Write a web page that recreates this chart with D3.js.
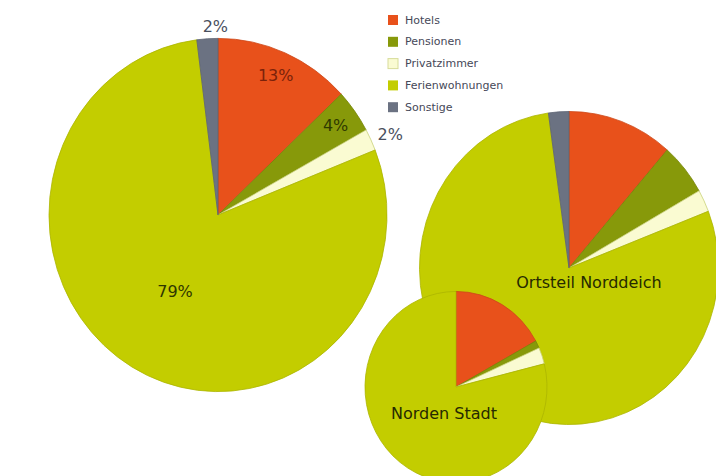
<!DOCTYPE html>
<html>
<head>
<meta charset="utf-8">
<script src="https://cdn.jsdelivr.net/npm/d3@7"></script>
<style>
  html, body { margin: 0; padding: 0; background: #ffffff; }
  svg { display: block; }
  text { font-family: "DejaVu Sans", Verdana, sans-serif; }
</style>
</head>
<body>
<svg id="chart" width="716" height="476"></svg>
<script>
// Unterkunftsarten (Anteile in %)
const categories = ["Hotels", "Pensionen", "Privatzimmer", "Ferienwohnungen", "Sonstige"];
const gesamt      = [13, 4, 2, 79, 2];
const norddeich   = [11.4, 5.4, 2.3, 78.7, 2.2];
const nordenStadt = [17, 1.3, 2.8, 78.9, 0];
const gesamtLabels = ["13%", "4%", "2%", "79%", "2%"];
const pieTitles = ["", "Ortsteil Norddeich", "Norden Stadt"];

const colors = ["#e8511b", "#87990a", "#fafbd2", "#c3cd00", "#6b7282"];
const labelColors = ["#7a220a", "#2f3a00", "#4a4f5e", "#2f3600", "#4a4f5e"];

const svg = d3.select("#chart");
const color = d3.scaleOrdinal().domain(categories).range(colors);
const pie = d3.pie().sort(null).value(d => d.value).startAngle(0).endAngle(2 * Math.PI);

const pies = [
  { values: gesamt,      cx: 218, cy: 215, r: 169,   sy: 1.045, labels: gesamtLabels },
  { values: norddeich,   cx: 569, cy: 268, r: 149.5, sy: 1.047, title: pieTitles[1], tx: 589, ty: 288 },
  { values: nordenStadt, cx: 456, cy: 387, r: 91,    sy: 1.05,  title: pieTitles[2], tx: 444, ty: 419 }
];

pies.forEach(p => {
  const data = categories.map((c, i) => ({ cat: c, value: p.values[i], i }));
  const arcs = pie(data).filter(a => a.data.value > 0);
  const arc = d3.arc().innerRadius(0).outerRadius(p.r);

  const g = svg.append("g")
    .attr("transform", `translate(${p.cx},${p.cy}) scale(1,${p.sy})`);

  g.selectAll("path")
    .data(arcs)
    .join("path")
    .attr("d", arc)
    .attr("fill", d => color(d.data.cat))
    .attr("stroke", d => d.data.cat === "Privatzimmer" ? "#c9d27a" : d3.color(color(d.data.cat)).darker(0.35))
    .attr("stroke-width", 0.8)
    .attr("vector-effect", "non-scaling-stroke");

  if (p.labels) {
    arcs.forEach(a => {
      const v = a.data.value;
      const outside = v < 4;
      const rr = v >= 50 ? 0.5 : (outside ? 1.07 : 0.86);
      const la = d3.arc().innerRadius(p.r * rr).outerRadius(p.r * rr);
      const [x, y] = la.centroid(a);
      svg.append("text")
        .attr("x", p.cx + x + (outside ? -4 : 0))
        .attr("y", p.cy + y * p.sy)
        .attr("text-anchor", outside ? "start" : "middle")
        .attr("dominant-baseline", "central")
        .attr("font-size", 16)
        .attr("fill", labelColors[a.data.i])
        .text(p.labels[a.data.i]);
    });
  }

  if (p.title) {
    svg.append("text")
      .attr("x", p.tx)
      .attr("y", p.ty)
      .attr("text-anchor", "middle")
      .attr("font-size", 16)
      .attr("fill", "#262a00")
      .text(p.title);
  }
});

// Legende
const legend = svg.append("g").attr("transform", "translate(388,20)");
const row = d3.scaleBand().domain(categories).range([0, 109]).paddingInner(0);
categories.forEach(c => {
  const y = row(c);
  legend.append("rect")
    .attr("x", 0)
    .attr("y", y - 5)
    .attr("width", 10)
    .attr("height", 10)
    .attr("fill", color(c))
    .attr("stroke", c === "Privatzimmer" ? "#d7dc9a" : "none")
    .attr("stroke-width", 1);
  legend.append("text")
    .attr("x", 17)
    .attr("y", y)
    .attr("dominant-baseline", "central")
    .attr("font-size", 11)
    .attr("fill", "#464858")
    .text(c);
});
</script>
</body>
</html>
